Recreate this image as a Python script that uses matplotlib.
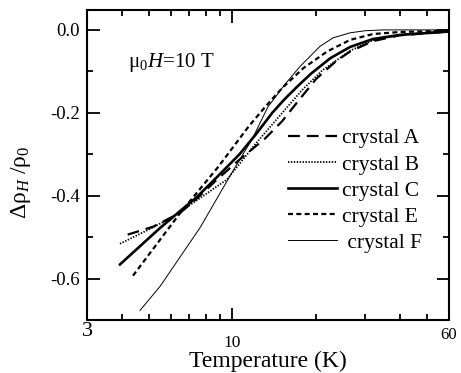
import matplotlib
matplotlib.use("Agg")
import matplotlib.pyplot as plt
from matplotlib.ticker import FixedLocator, NullFormatter, FixedFormatter

plt.rcParams['font.family'] = ['Liberation Serif', 'DejaVu Serif']
plt.rcParams['mathtext.fontset'] = 'custom'
plt.rcParams['mathtext.rm'] = 'Liberation Serif'
plt.rcParams['mathtext.it'] = 'Liberation Serif:italic'
plt.rcParams['lines.scale_dashes'] = False

# Data (temperature in K, delta rho_H / rho_0)
T_A = [4.2, 5.18, 6.5, 7.5, 8.8, 10.6, 13.1, 15.1, 17.3, 20.0, 23.5, 26.5, 32.0, 40.0, 60.0]
R_A = [-0.494, -0.475, -0.441, -0.405, -0.361, -0.313, -0.262, -0.220, -0.170, -0.118, -0.076, -0.052, -0.027, -0.013, -0.004]

T_B = [3.94, 5.06, 5.97, 7.23, 9.56, 12.1, 15.1, 17.8, 21.0, 26.5, 32.0, 40.0, 60.0]
R_B = [-0.516, -0.480, -0.455, -0.417, -0.361, -0.275, -0.200, -0.145, -0.098, -0.050, -0.025, -0.012, -0.003]

T_C = [3.94, 5.49, 7.48, 8.8, 10.6, 12.2, 13.9, 15.5, 17.2, 19.2, 22.5, 26.5, 32.0, 40.0, 60.0]
R_C = [-0.566, -0.478, -0.402, -0.355, -0.300, -0.250, -0.200, -0.165, -0.135, -0.105, -0.068, -0.041, -0.022, -0.012, -0.004]

T_E = [4.39, 6.5, 8.9, 11.4, 13.1, 15.1, 18.0, 21.9, 26.5, 32.0, 40.0, 60.0]
R_E = [-0.593, -0.441, -0.330, -0.234, -0.186, -0.140, -0.092, -0.052, -0.024, -0.010, -0.005, -0.002]

T_F = [4.65, 5.49, 7.65, 10.0, 11.8, 13.4, 15.5, 17.5, 20.6, 23.0, 26.5, 30.0, 35.0, 60.0]
R_F = [-0.677, -0.619, -0.477, -0.342, -0.262, -0.186, -0.130, -0.088, -0.040, -0.019, -0.007, -0.002, 0.0, 0.0]

labels = ['crystal A', 'crystal B', 'crystal C', 'crystal E', ' crystal F']

x_major = [3, 10, 60]
x_major_labels = ['3', '10', '60']
x_minor = [4, 5, 6, 7, 8, 9, 20, 30, 40, 50]
y_major = [0.0, -0.2, -0.4, -0.6]
y_major_labels = ['0.0', '-0.2', '-0.4', '-0.6']
y_minor = [-0.1, -0.3, -0.5]

fig = plt.figure(figsize=(4.61, 3.73), dpi=100)
ax = fig.add_axes([87/461, 1 - 320/373, (449-87)/461, (320-10)/373])

ax.plot(T_A, R_A, color='black', lw=1.6, dashes=(8.5, 5.0), label=labels[0])
ax.plot(T_B, R_B, color='black', lw=1.3, dashes=(1.0, 1.1), label=labels[1])
ax.plot(T_C, R_C, color='black', lw=1.9, label=labels[2])
ax.plot(T_E, R_E, color='black', lw=1.6, dashes=(3.6, 2.4), label=labels[3])
ax.plot(T_F, R_F, color='black', lw=0.7, label=labels[4])

ax.set_xscale('log')
ax.set_xlim(3, 60)
ax.set_ylim(-0.7, 0.048)

ax.xaxis.set_major_locator(FixedLocator(x_major))
ax.xaxis.set_major_formatter(FixedFormatter(x_major_labels))
ax.xaxis.set_minor_locator(FixedLocator(x_minor))
ax.xaxis.set_minor_formatter(NullFormatter())
ax.yaxis.set_major_locator(FixedLocator(y_major))
ax.yaxis.set_major_formatter(FixedFormatter(y_major_labels))
ax.yaxis.set_minor_locator(FixedLocator(y_minor))

ax.tick_params(which='both', direction='in', top=True, right=True, width=1.3)
ax.tick_params(which='major', length=9)
ax.tick_params(axis='y', which='major', labelsize=13.5, pad=5)
ax.tick_params(which='minor', length=4.5)
for s in ax.spines.values():
    s.set_linewidth(1.5)

# individual x tick label styles (sizes and offsets differ in the original)
xticks = ax.xaxis.get_major_ticks(len(x_major))
x_sizes = [16, 12.5, 12]
x_pads = [1.5, 11.0, 5.0]
for tk, fs, pd in zip(xticks, x_sizes, x_pads):
    tk.label1.set_fontsize(fs)
    tk.set_pad(pd)

ax.set_xlabel('Temperature (K)', fontsize=17)
ax.xaxis.set_label_coords(0.5, -0.098)
ax.set_ylabel(r'$\mathrm{Δρ}_{H}\ /\mathrm{ρ}_{0}$', fontsize=17)
ax.yaxis.set_label_coords(-0.148, 0.445)

ax.text(0.113, 0.83, r'$\mathrm{μ}_{0}H$=10 T', transform=ax.transAxes,
        fontsize=15, ha='left', va='center')

leg = ax.legend(loc='upper left', bbox_to_anchor=(0.556, 0.618), frameon=False,
                fontsize=15.5, handlelength=2.25, handletextpad=0.25,
                labelspacing=0.28, borderaxespad=0, borderpad=0)

fig.savefig('out.png', dpi=100)
